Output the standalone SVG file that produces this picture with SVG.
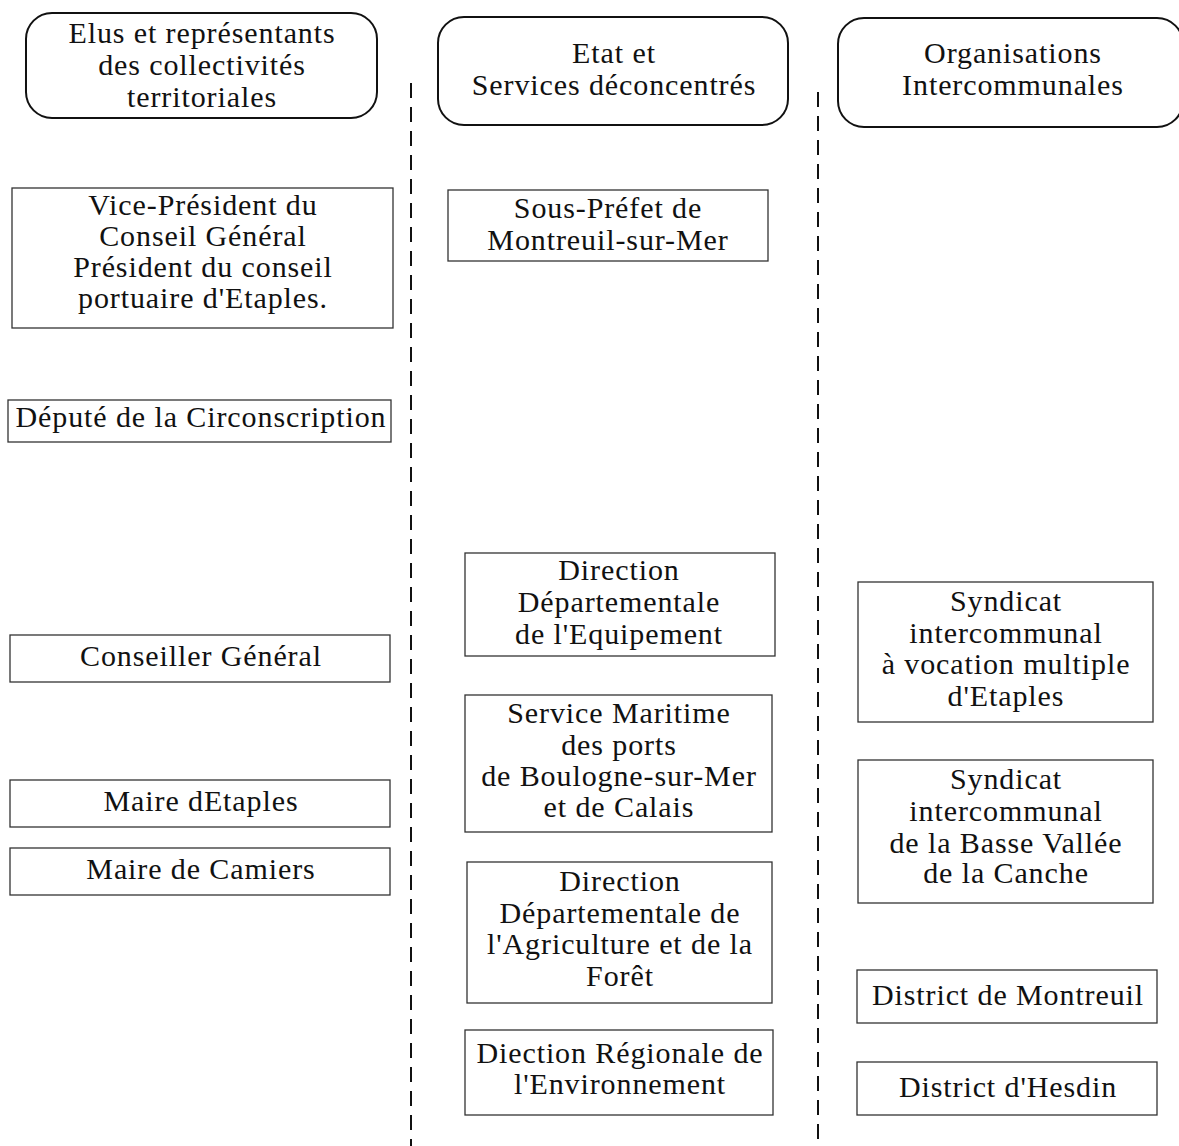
<svg xmlns="http://www.w3.org/2000/svg" width="1179" height="1146" viewBox="0 0 1179 1146">
  <style>
    text { font-family: "Liberation Serif", "Times New Roman", serif; font-size: 30px; letter-spacing: 0.9px; fill: #111; text-anchor: middle; }
    .head { fill: #fff; stroke: #111; stroke-width: 2; }
    .box { fill: #fff; stroke: #333; stroke-width: 1.3; }
    .sep { stroke: #111; stroke-width: 2; stroke-dasharray: 15 9; fill: none; }
  </style>
  <rect width="1179" height="1146" fill="#fff"/>

  <!-- column separators -->
  <g id="separators">
    <line class="sep" x1="411" y1="83" x2="411" y2="1146"/>
    <line class="sep" x1="818" y1="92" x2="818" y2="1146"/>
  </g>

  <!-- column headers -->
  <g id="head-elus">
    <rect class="head" x="26" y="13" width="351" height="105" rx="26"/>
    <text x="202" y="43">Elus et représentants</text>
    <text x="202" y="75">des collectivités</text>
    <text x="202" y="107">territoriales</text>
  </g>
  <g id="head-etat">
    <rect class="head" x="438" y="17" width="350" height="108" rx="26"/>
    <text x="614" y="63">Etat et</text>
    <text x="614" y="95">Services déconcentrés</text>
  </g>
  <g id="head-inter">
    <rect class="head" x="838" y="18" width="345" height="109" rx="26"/>
    <text x="1013" y="63">Organisations</text>
    <text x="1013" y="95">Intercommunales</text>
  </g>

  <!-- elected representatives -->
  <g id="vice-president">
    <rect class="box" x="12" y="188" width="381" height="140"/>
    <text x="203" y="215">Vice-Président du</text>
    <text x="203" y="246">Conseil Général</text>
    <text x="203" y="277">Président du conseil</text>
    <text x="203" y="308">portuaire d'Etaples.</text>
  </g>
  <g id="depute">
    <rect class="box" x="8" y="400" width="383" height="42"/>
    <text x="201" y="427">Député de la Circonscription</text>
  </g>
  <g id="conseiller">
    <rect class="box" x="10" y="635" width="380" height="47"/>
    <text x="201" y="666">Conseiller Général</text>
  </g>
  <g id="maire-etaples">
    <rect class="box" x="10" y="780" width="380" height="47"/>
    <text x="201" y="811">Maire dEtaples</text>
  </g>
  <g id="maire-camiers">
    <rect class="box" x="10" y="848" width="380" height="47"/>
    <text x="201" y="879">Maire de Camiers</text>
  </g>

  <!-- state services -->
  <g id="sous-prefet">
    <rect class="box" x="448" y="190" width="320" height="71"/>
    <text x="608" y="218">Sous-Préfet de</text>
    <text x="608" y="250">Montreuil-sur-Mer</text>
  </g>
  <g id="dde">
    <rect class="box" x="465" y="553" width="310" height="103"/>
    <text x="619" y="580">Direction</text>
    <text x="619" y="612">Départementale</text>
    <text x="619" y="644">de l'Equipement</text>
  </g>
  <g id="service-maritime">
    <rect class="box" x="465" y="695" width="307" height="137"/>
    <text x="619" y="723">Service Maritime</text>
    <text x="619" y="755">des ports</text>
    <text x="619" y="786">de Boulogne-sur-Mer</text>
    <text x="619" y="817">et de Calais</text>
  </g>
  <g id="ddaf">
    <rect class="box" x="467" y="862" width="305" height="141"/>
    <text x="620" y="891">Direction</text>
    <text x="620" y="923">Départementale de</text>
    <text x="620" y="954">l'Agriculture et de la</text>
    <text x="620" y="986">Forêt</text>
  </g>
  <g id="diren">
    <rect class="box" x="465" y="1030" width="308" height="85"/>
    <text x="620" y="1063">Diection Régionale de</text>
    <text x="620" y="1094">l'Environnement</text>
  </g>

  <!-- intercommunal bodies -->
  <g id="sivom-etaples">
    <rect class="box" x="858" y="582" width="295" height="140"/>
    <text x="1006" y="611">Syndicat</text>
    <text x="1006" y="643">intercommunal</text>
    <text x="1006" y="674">à vocation multiple</text>
    <text x="1006" y="706">d'Etaples</text>
  </g>
  <g id="syndicat-canche">
    <rect class="box" x="858" y="760" width="295" height="143"/>
    <text x="1006" y="789">Syndicat</text>
    <text x="1006" y="821">intercommunal</text>
    <text x="1006" y="853">de la Basse Vallée</text>
    <text x="1006" y="883">de la Canche</text>
  </g>
  <g id="district-montreuil">
    <rect class="box" x="857" y="970" width="300" height="53"/>
    <text x="1008" y="1005">District de Montreuil</text>
  </g>
  <g id="district-hesdin">
    <rect class="box" x="857" y="1062" width="300" height="53"/>
    <text x="1008" y="1097">District d'Hesdin</text>
  </g>
</svg>
